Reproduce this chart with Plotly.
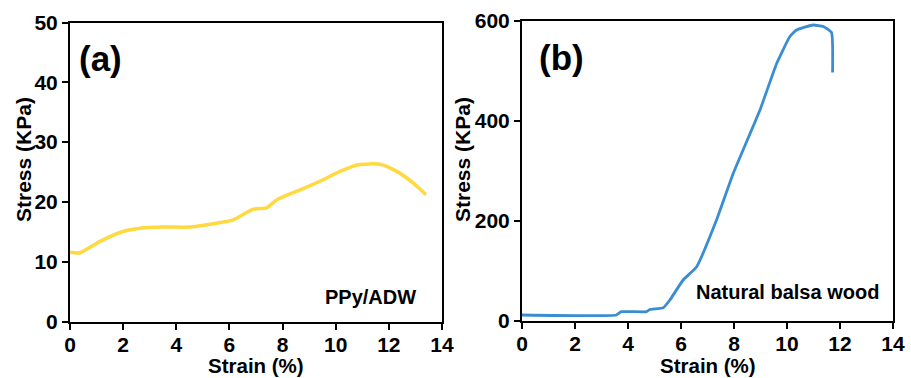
import plotly.graph_objects as go

# Panel (a): PPy/ADW
strain_a = [0, 0.38, 1.13, 2.0, 2.63, 3.5, 4.55, 5.65, 6.15, 6.9, 7.4, 7.78, 8.66, 9.53, 10.16, 10.85, 11.66, 12.3, 12.93, 13.4]
stress_a = [11.6, 11.5, 13.4, 15.05, 15.6, 15.8, 15.8, 16.55, 17.0, 18.8, 19.0, 20.35, 22.0, 23.7, 25.1, 26.2, 26.3, 25.1, 23.1, 21.2]

# Panel (b): Natural balsa wood
strain_b = [0, 3.56, 3.75, 4.7, 4.82, 5.33, 5.58, 6.08, 6.59, 7.34, 7.97, 8.98, 9.61, 10.11, 10.36, 10.99, 11.37, 11.68, 11.72]
stress_b = [12, 12, 18.6, 18.6, 23, 26.6, 42, 82, 108.6, 202, 295, 422, 515, 569, 582, 592, 589, 577, 497]

x_ticks = [0, 2, 4, 6, 8, 10, 12, 14]

FONT = "Liberation Sans"
fig = go.Figure()
fig.add_trace(go.Scatter(x=strain_a, y=stress_a, mode="lines",
                         line=dict(color="#FFD93D", width=3.5, shape="spline", smoothing=0.6),
                         xaxis="x", yaxis="y", showlegend=False))
fig.add_trace(go.Scatter(x=strain_b, y=stress_b, mode="lines",
                         line=dict(color="#3A8DD0", width=2.8, shape="spline", smoothing=0.4),
                         xaxis="x2", yaxis="y2", showlegend=False))

ax_common = dict(showline=True, linecolor="black", linewidth=2, mirror=True,
                 ticks="outside", ticklen=6, tickwidth=2, tickcolor="black",
                 showgrid=False, zeroline=False, automargin=False,
                 tickfont=dict(family=FONT, size=21, color="black", weight="bold"))

title_font = dict(family=FONT, size=20.5, color="black", weight="bold")
ytitle_font = dict(family=FONT, size=21, color="black", weight="bold")

fig.update_layout(
    width=911, height=378,
    margin=dict(l=0, r=0, t=0, b=0),
    paper_bgcolor="white", plot_bgcolor="white",
    xaxis=dict(domain=[70/911, 442/911], range=[0, 14], tickvals=x_ticks, anchor="y",
               ticklabelstandoff=-3, **ax_common),
    yaxis=dict(domain=[1-321.5/378, 1-22.5/378], range=[0, 50], tickvals=[0, 10, 20, 30, 40, 50], anchor="x",
               **ax_common),
    xaxis2=dict(domain=[522/911, 893/911], range=[0, 14], tickvals=x_ticks, anchor="y2",
                ticklabelstandoff=-3, **ax_common),
    yaxis2=dict(domain=[1-321/378, 1-21/378], range=[0, 600], tickvals=[0, 200, 400, 600], anchor="x2",
                **ax_common),
)

# axis titles
for xd in ["x domain", "x2 domain"]:
    fig.add_annotation(text="Strain (%)", xref=xd, yref="paper", x=0.5, y=1-365/378,
                       xanchor="center", yanchor="middle", showarrow=False, font=title_font)
for xpx in [23, 462]:
    fig.add_annotation(text="Stress (KPa)", xref="paper", yref="paper", x=xpx/911, y=1-160/378,
                       xanchor="center", yanchor="middle", textangle=-90, showarrow=False, font=ytitle_font)

fig.add_annotation(text="<b>(a)</b>", xref="x domain", yref="y domain", x=0.02, y=0.881,
                   xanchor="left", yanchor="middle", showarrow=False,
                   font=dict(family=FONT, size=35, color="black"))
fig.add_annotation(text="<b>(b)</b>", xref="x2 domain", yref="y2 domain", x=0.04, y=0.877,
                   xanchor="left", yanchor="middle", showarrow=False,
                   font=dict(family=FONT, size=35, color="black"))
fig.add_annotation(text="<b>PPy/ADW</b>", xref="x domain", yref="y domain", x=0.936, y=0.083,
                   xanchor="right", yanchor="middle", showarrow=False,
                   font=dict(family=FONT, size=20, color="black"))
fig.add_annotation(text="<b>Natural balsa wood</b>", xref="x2 domain", yref="y2 domain", x=0.968, y=0.098,
                   xanchor="right", yanchor="middle", showarrow=False,
                   font=dict(family=FONT, size=20, color="black"))

fig.write_html("out.html")
